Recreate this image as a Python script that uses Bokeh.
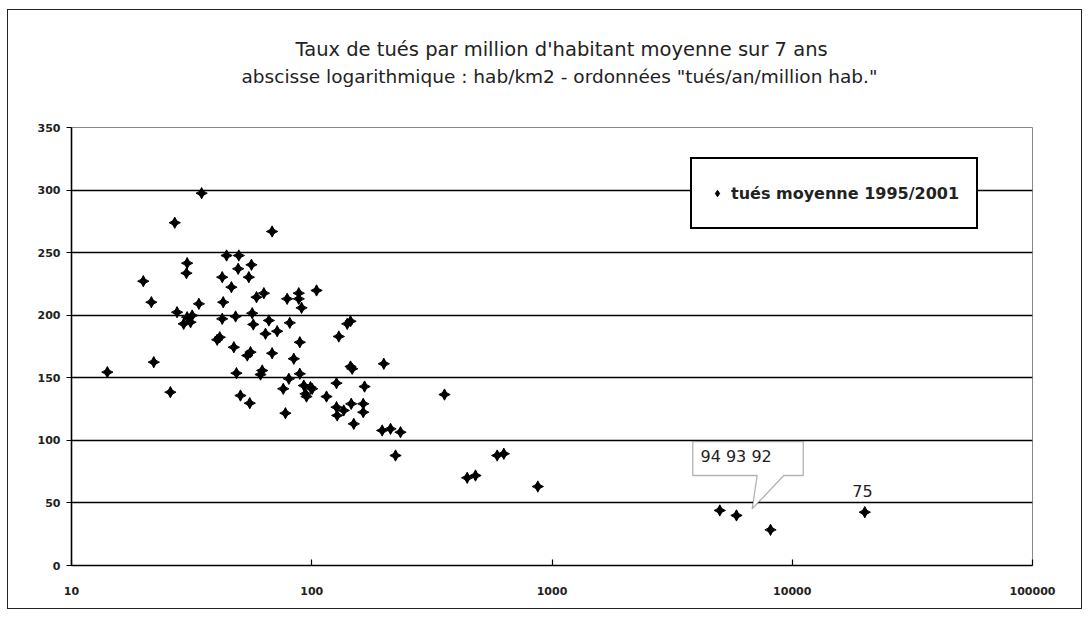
from bokeh.plotting import figure
from bokeh.models import (Range1d, FixedTicker, Label, Title, Legend, LegendItem,
                          PolyAnnotation)
from bokeh.embed import file_html
from bokeh.resources import INLINE

# ---- data (habitants/km2, tués/an/million hab.) ----
density = [14.1, 19.9, 21.5, 22.0, 25.8, 26.9, 27.5, 30.3, 30.1, 30.3,
           31.3, 29.3, 31.8, 33.9, 34.8, 42.4, 42.8, 42.4, 40.4, 41.4,
           44.2, 46.3, 47.4, 48.2, 48.6, 49.4, 49.7, 50.5, 54.7, 55.2,
           53.9, 55.6, 56.1, 56.5, 57.1, 58.9, 61.2, 62.2, 63.2, 64.2,
           66.3, 68.4, 68.4, 71.8, 76.1, 77.7, 79.0, 80.3, 81.0, 84.2,
           88.3, 88.3, 89.2, 89.2, 90.7, 92.7, 94.2, 95.1, 98.8, 100.4,
           104.7, 115.2, 126.8, 126.8, 127.6, 129.6, 135.9, 140.5, 145.0, 145.0,
           147.4, 146.0, 149.6, 163.8, 163.8, 165.9, 196.4, 199.5, 212.8, 223.2,
           234.1, 356.9, 443.6, 480.4, 591.5, 630.2, 873.0, 4993, 5860, 8120,
           20040]
tues = [154.5, 227.2, 210.4, 162.5, 138.5, 273.9, 202.4, 241.6, 233.6, 198.4,
        194.4, 193.1, 199.8, 209.1, 297.5, 230.4, 210.4, 197.1, 180.4, 182.4,
        247.7, 222.4, 174.4, 199.0, 153.7, 237.1, 247.7, 135.8, 230.4, 129.7,
        167.8, 170.5, 240.3, 201.6, 192.6, 214.4, 152.6, 155.8, 217.6, 185.2,
        195.8, 266.9, 169.6, 187.2, 141.2, 121.7, 213.1, 149.2, 193.9, 165.2,
        217.6, 213.1, 178.4, 153.2, 205.9, 143.8, 137.2, 135.0, 142.5, 141.2,
        219.8, 135.0, 145.7, 126.5, 119.9, 183.0, 123.9, 193.1, 195.2, 159.0,
        157.2, 129.2, 113.2, 129.2, 122.5, 143.0, 107.9, 161.2, 109.2, 87.9,
        106.5, 136.6, 70.1, 71.9, 87.9, 89.3, 63.1, 44.0, 40.0, 28.5,
        42.6]

x_ticks = [10, 100, 1000, 10000, 100000]
x_tick_labels = ["10", "100", "1000", "10000", "100000"]
y_ticks = [0, 50, 100, 150, 200, 250, 300, 350]
grid_ticks = [50, 100, 150, 200, 250, 300]

title_line1 = "Taux de tués par million d'habitant moyenne sur 7 ans"
title_line2 = 'abscisse logarithmique : hab/km2 - ordonnées "tués/an/million hab."'
legend_label = "tués moyenne 1995/2001"
callout_text = "94 93 92"
paris_text = "75"

FONT = "DejaVu Sans"
TXT = "#222222"

p = figure(width=1075, height=600, x_axis_type="log",
           x_range=Range1d(10, 100000), y_range=Range1d(0, 350),
           output_backend="svg", toolbar_location=None,
           min_border_left=63, min_border_right=51,
           min_border_top=117, min_border_bottom=45,
           background_fill_color="white", border_fill_color="white")
p.styles = {"border": "1.5px solid #222", "margin-left": "7px", "margin-top": "9px"}

# titles: an invisible spacer next to the frame, then line 2, then line 1
spacer = Title(text="\u00a0", text_font_size="1px", standoff=38, text_color="white")
t2 = Title(text=title_line2, align="left", offset=170, standoff=0,
           text_font=FONT, text_font_size="18.5px", text_font_style="normal",
           text_color=TXT)
t1 = Title(text=title_line1, align="left", offset=224, standoff=6,
           text_font=FONT, text_font_size="19.5px", text_font_style="normal",
           text_color=TXT)
p.add_layout(spacer, "above")
p.add_layout(t2, "above")
p.add_layout(t1, "above")

p.outline_line_color = "#888888"
p.outline_line_width = 1

p.xgrid.visible = False
p.ygrid.ticker = FixedTicker(ticks=grid_ticks)
p.ygrid.grid_line_color = "black"
p.ygrid.grid_line_width = 1.6

p.xaxis.ticker = FixedTicker(ticks=x_ticks)
p.xaxis.major_label_overrides = {t: l for t, l in zip(x_ticks, x_tick_labels)}
p.yaxis.ticker = FixedTicker(ticks=y_ticks)
for ax in (p.xaxis, p.yaxis):
    ax.axis_line_color = "black"
    ax.axis_line_width = 1.6
    ax.major_tick_line_color = "black"
    ax.major_tick_line_width = 1.2
    ax.minor_tick_line_color = None
    ax.major_label_text_font = "DejaVu Sans"
    ax.major_label_text_font_style = "bold"
    ax.major_label_text_font_size = "11px"
    ax.major_label_text_color = TXT
p.xaxis.major_tick_in = 6
p.xaxis.major_tick_out = 0
p.xaxis.major_label_standoff = 21
p.yaxis.major_tick_in = 0
p.yaxis.major_tick_out = 5
p.yaxis.major_label_standoff = 6

# callout for 94 93 92
callout = PolyAnnotation(
    xs=[3855, 11108, 11108, 9224, 6812, 7145, 3855],
    ys=[99, 99, 71.9, 71.9, 45.3, 71.9, 71.9],
    fill_color="white", fill_alpha=1, line_color="black", line_width=1.3)
p.add_layout(callout)
p.add_layout(Label(x=4150, y=87.1, text=callout_text, text_baseline="middle",
                   text_font=FONT, text_font_size="16px", text_color=TXT))
p.add_layout(Label(x=19610, y=59.9, text=paris_text, text_baseline="middle",
                   text_align="center", text_font=FONT, text_font_size="16px",
                   text_color=TXT))

# series symbol: a diamond core with a four-point star on top
r_core = p.scatter(density, tues, marker="diamond", size=9, color="black")
r_star = p.scatter(density, tues, marker="square_pin", angle=0.785, size=8,
                   color="black")

legend = Legend(items=[LegendItem(label=legend_label, renderers=[r_core])],
                location=(619, 336), border_line_color="black",
                border_line_width=2, border_line_alpha=1,
                background_fill_alpha=1,
                padding=17, glyph_width=16, glyph_height=34, label_height=34,
                label_standoff=6,
                label_text_font=FONT, label_text_font_style="bold",
                label_text_font_size="16px", label_text_color=TXT)
p.add_layout(legend)

open("out.html", "w").write(file_html(p, INLINE))
